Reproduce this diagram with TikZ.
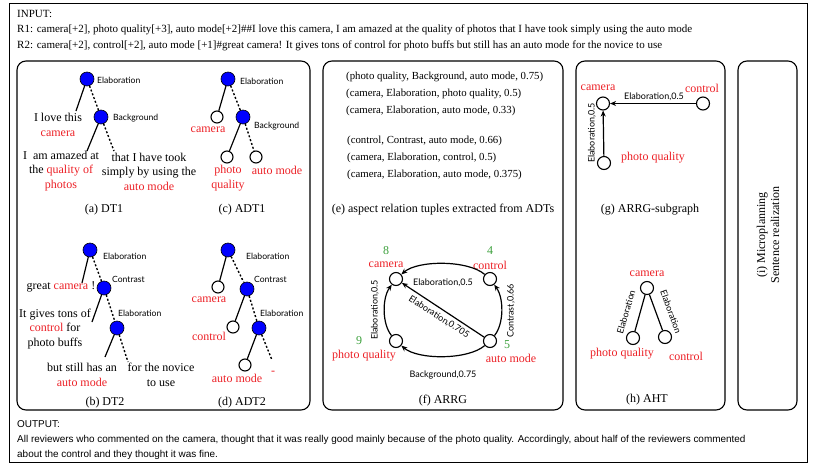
\documentclass[tikz,border=0pt]{standalone}
\usepackage{fontspec}
\setmainfont{Liberation Serif}
\newfontfamily\relf{Lato}
\newfontfamily\arialf{Liberation Sans}
\usetikzlibrary{arrows.meta}
\definecolor{myred}{RGB}{236,32,38}
\definecolor{mygreen}{RGB}{60,160,60}
\newcommand{\rd}[1]{\textcolor{myred}{#1}}
\begin{document}
\begin{tikzpicture}[x=1pt,y=-1pt,
 panel/.style={draw, line width=1.1pt, rounded corners=9pt},
 bnode/.style={circle, draw, line width=0.6pt, fill=blue, minimum size=14pt, inner sep=0pt},
 wnode/.style={circle, draw, line width=1.1pt, fill=white, minimum size=12pt, inner sep=0pt},
 gnode/.style={circle, draw, line width=1.1pt, fill=white, minimum size=13pt, inner sep=0pt},
 rel/.style={font=\relf\fontsize{8.6}{9}\selectfont, anchor=west, inner sep=0pt},
 elab/.style={font=\relf\fontsize{9}{10}\selectfont, inner sep=0pt},
 txt/.style={font=\fontsize{12}{14.5}\selectfont, align=center, inner sep=0pt},
 captxt/.style={font=\fontsize{12}{14}\selectfont, inner sep=0pt},
 tup/.style={font=\fontsize{10.8}{12}\selectfont, anchor=west, inner sep=0pt},
 intext/.style={font=\fontsize{11}{13}\selectfont, anchor=west, inner sep=0pt},
 outtext/.style={font=\arialf\fontsize{9.95}{11}\selectfont, anchor=west, inner sep=0pt},
 solidedge/.style={line width=1.2pt},
 dotedge/.style={line width=1.4pt, dash pattern=on 2pt off 2pt},
 arr/.style={line width=1.2pt, -{Stealth[length=6pt,width=5pt]}},
]
\useasboundingbox (0,0) rectangle (815,464);
\draw[line width=0.8pt] (9,3) rectangle (807,462);

% input text
\node[intext] (inp) at (17,14) {INPUT:};
\node[intext] (r1) at (17,30) {R1: camera[+2], photo quality[+3], auto mode[+2]\#\#I love this camera, I am amazed at the quality of photos that I have took simply using the auto mode};
\node[intext] (r2) at (17,46) {R2: camera[+2], control[+2], auto mode [+1]\#great camera! It gives tons of control for photo buffs but still has an auto mode for the novice to use};

% panels
\draw[panel] (17,61) rectangle (310,410);
\draw[panel] (323,61) rectangle (563,410);
\draw[panel] (576,61) rectangle (725,410);
\draw[panel] (738,61) rectangle (797,410);

% ---------- DT1 ----------
\node[bnode] (a1) at (87,79) {};
\node[rel] (a1l) at (97,80) {Elaboration};
\node[bnode] (a2) at (101,117) {};
\node[rel] (a2l) at (113,118) {Background};
\coordinate (a1e) at (76,111);
\coordinate (a2e) at (87,151);
\coordinate (a2f) at (114,151);
\draw[solidedge] (a1) -- (a1e);
\draw[dotedge] (a1) -- (a2);
\draw[solidedge] (a2) -- (a2e);
\draw[dotedge] (a2) -- (a2f);
\node[txt] (at1) at (58,125) {I love this\\\rd{camera}};
\node[txt] (at2) at (61,171) {I\ \ am amazed at\\the \rd{quality of}\\\rd{photos}};
\node[txt] (at3) at (149,171.5) {that I have took\\simply by using the\\\rd{auto mode}};
\node[captxt] (capa) at (104,210) {(a) DT1};

% ---------- ADT1 ----------
\node[bnode] (c1) at (228,79) {};
\node[rel] (c1l) at (240,81) {Elaboration};
\node[wnode] (c2) at (217,117) {};
\node[bnode] (c3) at (243,117) {};
\node[rel] (c3l) at (254,126) {Background};
\node[wnode] (c4) at (227,157) {};
\node[wnode] (c5) at (256,157) {};
\draw[solidedge] (c1) -- (c2);
\draw[dotedge] (c1) -- (c3);
\draw[solidedge] (c3) -- (c4);
\draw[dotedge] (c3) -- (c5);
\node[txt, text=myred] (ct2) at (208,130) {camera};
\node[txt, text=myred] (ct4) at (228,178) {photo\\quality};
\node[txt, text=myred] (ct5) at (277,170) {auto mode};
\node[captxt] (capc) at (242,210) {(c) ADT1};

% ---------- DT2 ----------
\node[bnode] (b1) at (90,250) {};
\node[rel] (b1l) at (103,256) {Elaboration};
\node[bnode] (b2) at (104,288) {};
\node[rel] (b2l) at (112,279) {Contrast};
\node[bnode] (b3) at (117,328) {};
\node[rel] (b3l) at (118,313) {Elaboration};
\coordinate (b1e) at (82,283);
\coordinate (b2e) at (92,322);
\coordinate (b3e) at (105,357);
\coordinate (b3f) at (128,362);
\draw[solidedge] (b1) -- (b1e);
\draw[dotedge] (b1) -- (b2);
\draw[solidedge] (b2) -- (b2e);
\draw[dotedge] (b2) -- (b3);
\draw[solidedge] (b3) -- (b3e);
\draw[dotedge] (b3) -- (b3f);
\node[txt] (bt1) at (61,287) {great \rd{camera} !};
\node[txt] (bt2) at (55,329) {It gives tons of\\\rd{control} for\\photo buffs};
\node[txt] (bt3) at (82,375) {but still has an\\\rd{auto mode}};
\node[txt] (bt4) at (161,375) {for the novice\\to use};
\node[captxt] (capb) at (105,403) {(b) DT2};

% ---------- ADT2 ----------
\node[bnode] (d1) at (228,250) {};
\node[rel] (d1l) at (246,256) {Elaboration};
\node[wnode] (d2) at (218,287) {};
\node[bnode] (d3) at (247,289) {};
\node[rel] (d3l) at (254,279) {Contrast};
\node[wnode] (d4) at (233,327) {};
\node[bnode] (d5) at (259,328) {};
\node[rel] (d5l) at (260,313) {Elaboration};
\node[wnode] (d6) at (245,365) {};
\coordinate (d5f) at (272,360);
\draw[solidedge] (d1) -- (d2);
\draw[dotedge] (d1) -- (d3);
\draw[solidedge] (d3) -- (d4);
\draw[dotedge] (d3) -- (d5);
\draw[solidedge] (d5) -- (d6);
\draw[dotedge] (d5) -- (d5f);
\node[txt, text=myred] (dt2) at (209,300) {camera};
\node[txt, text=myred] (dt4) at (209,336) {control};
\node[txt, text=myred] (dt6) at (237,378) {auto mode};
\node[txt, text=myred] (dt7) at (273,373) {-};
\node[captxt] (capd) at (242,403) {(d) ADT2};

% ---------- tuples ----------
\node[tup] (t1) at (346,77) {(photo quality, Background, auto mode, 0.75)};
\node[tup] (t2) at (346,94) {(camera, Elaboration, photo quality, 0.5)};
\node[tup] (t3) at (346,111) {(camera, Elaboration, auto mode, 0.33)};
\node[tup] (t4) at (347,141) {(control, Contrast, auto mode, 0.66)};
\node[tup] (t5) at (347,158) {(camera, Elaboration, control, 0.5)};
\node[tup] (t6) at (347,175) {(camera, Elaboration, auto mode, 0.375)};
\node[captxt] (cape) at (443,210) {(e) aspect relation tuples extracted from ADTs};

% ---------- ARRG ----------
\node[gnode] (fcam) at (396,279) {};
\node[gnode] (fcon) at (490,279) {};
\node[gnode] (fpq) at (396,341) {};
\node[gnode] (fam) at (490,341) {};
\node[txt, text=mygreen] (n8) at (386,251) {8};
\node[txt, text=myred] (fcamt) at (386,265) {camera};
\node[txt, text=mygreen] (n4) at (490,251) {4};
\node[txt, text=myred] (fcont) at (490,265) {control};
\node[txt, text=mygreen] (n9) at (359,341) {9};
\node[txt, text=myred] (fpqt) at (364,356) {photo quality};
\node[txt, text=mygreen] (n5) at (507,345) {5};
\node[txt, text=myred] (famt) at (511,358) {auto mode};
\draw[arr] (fcon) .. controls (468,260) and (418,260) .. (fcam);
\draw[arr] (fpq) .. controls (382,324) and (382,298) .. (fcam);
\draw[arr] (fam) .. controls (504,324) and (504,298) .. (fcon);
\draw[arr] (fam) .. controls (468,360) and (418,360) .. (fpq);
\draw[arr] (fam) -- (fcam);
\node[elab] (fl1) at (443,283) {Elaboration,0.5};
\node[elab, rotate=90] (fl2) at (375,310) {Elaboration,0.5};
\node[elab, rotate=90] (fl3) at (511,311) {Contrast,0.66};
\node[elab] (fl4) at (443,375) {Background,0.75};
\node[elab, rotate=-33] (fl5) at (439,317) {Elaboration,0.705};
\node[captxt] (capf) at (443,401) {(f) ARRG};

% ---------- ARRG-subgraph ----------
\node[gnode] (gcam) at (603,103.5) {};
\node[gnode] (gcon) at (703,103.5) {};
\node[gnode] (gpq) at (604,163) {};
\node[txt, text=myred] (gcamt) at (598,88) {camera};
\node[txt, text=myred] (gcont) at (702,88) {control};
\node[txt, text=myred] (gpqt) at (653,158) {photo quality};
\draw[arr] (gcon) -- (gcam);
\draw[arr] (gpq) -- (gcam);
\node[elab] (gl1) at (654,97) {Elaboration,0.5};
\node[elab, rotate=90] (gl2) at (592,133) {Elaboration,0.5};
\node[captxt] (capg) at (650,210) {(g) ARRG-subgraph};

% ---------- AHT ----------
\node[gnode] (hcam) at (647,288) {};
\node[gnode] (hpq) at (633,338) {};
\node[gnode] (hcon) at (665,337) {};
\node[txt, text=myred] (hcamt) at (647,274) {camera};
\node[txt, text=myred] (hpqt) at (622,354) {photo quality};
\node[txt, text=myred] (hcont) at (686,356) {control};
\draw[line width=1.2pt] (hcam) -- (hpq);
\draw[line width=1.2pt] (hcam) -- (hcon);
\node[elab, rotate=74] (hl1) at (626,312) {Elaboration};
\node[elab, rotate=-70] (hl2) at (671,312) {Elaboration};
\node[captxt] (caph) at (647,400) {(h) AHT};

% ---------- (i) ----------
\node[captxt, rotate=90, align=center] (capi) at (768,235) {(i) Microplanning\\Sentence realization};

% output
\node[outtext] (outh) at (17,424) {OUTPUT:};
\node[outtext] (out1) at (17,440) {All reviewers who commented on the camera, thought that it was really good mainly because of the photo quality. Accordingly, about half of the reviewers commented};
\node[outtext] (out2) at (17,455) {about the control and they thought it was fine.};
\end{tikzpicture}
\end{document}
